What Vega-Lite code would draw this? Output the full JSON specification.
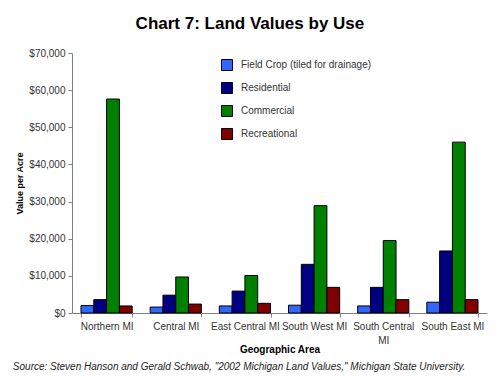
{
  "$schema": "https://vega.github.io/schema/vega-lite/v6.json",
  "background": "white",
  "padding": {"left": 12, "top": 15, "right": 5, "bottom": 5},
  "title": {
    "text": "Chart 7: Land Values by Use",
    "font": "Liberation Sans",
    "fontSize": 17,
    "fontWeight": "bold",
    "color": "black",
    "anchor": "middle",
    "offset": 15
  },
  "hconcat": [
    {
      "width": 415,
      "height": 260,
      "title": {
        "text": "Source: Steven Hanson and Gerald Schwab, \"2002 Michigan Land Values,\" Michigan State University.",
        "orient": "bottom",
        "anchor": "start",
        "frame": "bounds",
        "font": "Liberation Sans",
        "fontSize": 10,
        "fontStyle": "italic",
        "fontWeight": "normal",
        "color": "#222222",
        "offset": 8,
        "dx": -3
      },
      "data": {
        "values": [
          {"area": "Northern MI", "use": "Field Crop (tiled for drainage)", "value": 2000},
          {"area": "Northern MI", "use": "Residential", "value": 3600},
          {"area": "Northern MI", "use": "Commercial", "value": 57600},
          {"area": "Northern MI", "use": "Recreational", "value": 1900},
          {"area": "Central MI", "use": "Field Crop (tiled for drainage)", "value": 1600},
          {"area": "Central MI", "use": "Residential", "value": 4800},
          {"area": "Central MI", "use": "Commercial", "value": 9700},
          {"area": "Central MI", "use": "Recreational", "value": 2400},
          {"area": "East Central MI", "use": "Field Crop (tiled for drainage)", "value": 1900},
          {"area": "East Central MI", "use": "Residential", "value": 5900},
          {"area": "East Central MI", "use": "Commercial", "value": 10100},
          {"area": "East Central MI", "use": "Recreational", "value": 2600},
          {"area": "South West MI", "use": "Field Crop (tiled for drainage)", "value": 2100},
          {"area": "South West MI", "use": "Residential", "value": 13100},
          {"area": "South West MI", "use": "Commercial", "value": 28900},
          {"area": "South West MI", "use": "Recreational", "value": 6900},
          {"area": "South Central MI", "use": "Field Crop (tiled for drainage)", "value": 1900},
          {"area": "South Central MI", "use": "Residential", "value": 6900},
          {"area": "South Central MI", "use": "Commercial", "value": 19500},
          {"area": "South Central MI", "use": "Recreational", "value": 3600},
          {"area": "South East MI", "use": "Field Crop (tiled for drainage)", "value": 2900},
          {"area": "South East MI", "use": "Residential", "value": 16700},
          {"area": "South East MI", "use": "Commercial", "value": 46000},
          {"area": "South East MI", "use": "Recreational", "value": 3600}
        ]
      },
      "mark": {"type": "bar", "stroke": "black", "strokeWidth": 1},
      "encoding": {
        "x": {
          "field": "area",
          "type": "nominal",
          "sort": ["Northern MI", "Central MI", "East Central MI", "South West MI", "South Central MI", "South East MI"],
          "scale": {"paddingInner": 0.26, "paddingOuter": 0.13},
          "axis": {
            "title": "Geographic Area",
            "titleFont": "Liberation Sans",
            "titleFontSize": 10,
            "titleFontWeight": "bold",
            "titleColor": "black",
            "titlePadding": -1,
            "labelFont": "Liberation Sans",
            "labelFontSize": 10,
            "labelColor": "#333333",
            "labelAngle": 0,
            "labelPadding": 4,
            "labelLineHeight": 14,
            "labelExpr": "datum.label == 'South Central MI' ? ['South Central', 'MI'] : datum.label",
            "tickBand": "extent",
            "tickSize": 4,
            "tickColor": "#808080",
            "domainColor": "#808080",
            "grid": false
          }
        },
        "xOffset": {
          "field": "use",
          "type": "nominal",
          "sort": ["Field Crop (tiled for drainage)", "Residential", "Commercial", "Recreational"]
        },
        "y": {
          "field": "value",
          "type": "quantitative",
          "scale": {"domain": [0, 70000]},
          "axis": {
            "title": "Value per Acre",
            "titleFont": "Liberation Sans",
            "titleFontSize": 9,
            "titleFontWeight": "bold",
            "titleColor": "black",
            "titlePadding": 4,
            "labelFont": "Liberation Sans",
            "labelFontSize": 10,
            "labelColor": "#333333",
            "format": "$,.0f",
            "values": [0, 10000, 20000, 30000, 40000, 50000, 60000, 70000],
            "tickSize": 4,
            "tickColor": "#808080",
            "domainColor": "#808080",
            "labelPadding": 3,
            "grid": false
          }
        },
        "color": {
          "field": "use",
          "type": "nominal",
          "sort": ["Field Crop (tiled for drainage)", "Residential", "Commercial", "Recreational"],
          "scale": {
            "domain": ["Field Crop (tiled for drainage)", "Residential", "Commercial", "Recreational"],
            "range": ["#3366FF", "#000080", "#008000", "#800000"]
          },
          "legend": {
            "title": null,
            "orient": "none",
            "legendX": 149,
            "legendY": 6,
            "symbolType": "square",
            "symbolSize": 121,
            "symbolStrokeColor": "black",
            "symbolStrokeWidth": 1,
            "symbolOpacity": 1,
            "labelFont": "Liberation Sans",
            "labelFontSize": 10,
            "labelColor": "#333333",
            "labelOffset": 8,
            "rowPadding": 7
          }
        }
      }
    }
  ],
  "config": {"view": {"stroke": null}}
}
